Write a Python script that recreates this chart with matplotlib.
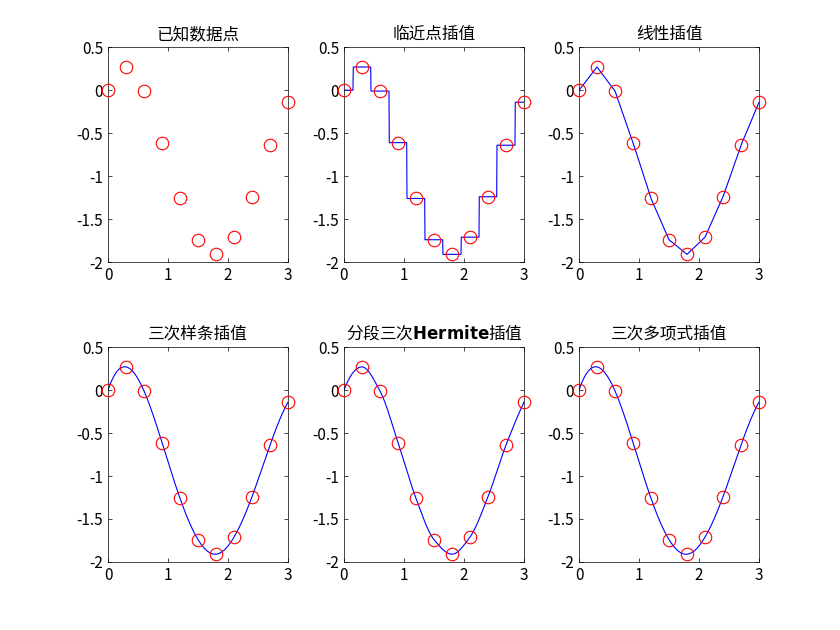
import numpy as np
import matplotlib
matplotlib.use("Agg")
import matplotlib.pyplot as plt

plt.rcParams['font.family'] = ['Noto Sans CJK SC', 'DejaVu Sans']

x = np.array([0, 0.3, 0.6, 0.9, 1.2, 1.5, 1.8, 2.1, 2.4, 2.7, 3.0])
y = np.array([0, 0.27, -0.01, -0.61, -1.26, -1.74, -1.91, -1.71, -1.24, -0.64, -0.14])
titles = ['已知数据点', '临近点插值', '线性插值', '三次样条插值', '分段三次Hermite插值', '三次多项式插值']
yticks = [-2, -1.5, -1, -0.5, 0, 0.5]
yticklabels = ['-2', '-1.5', '-1', '-0.5', '0', '0.5']

xi = np.linspace(0, 3, 601)

def nearest(xi):
    idx = np.abs(xi[:, None] - x[None, :]).argmin(axis=1)
    return y[idx]

def spline(xi):
    n = len(x); h = np.diff(x)
    A = np.zeros((n, n)); b = np.zeros(n)
    for i in range(1, n-1):
        A[i, i-1] = h[i-1]; A[i, i] = 2*(h[i-1]+h[i]); A[i, i+1] = h[i]
        b[i] = 6*((y[i+1]-y[i])/h[i] - (y[i]-y[i-1])/h[i-1])
    A[0, 0] = h[1]; A[0, 1] = -(h[0]+h[1]); A[0, 2] = h[0]
    A[-1, -3] = h[-1]; A[-1, -2] = -(h[-2]+h[-1]); A[-1, -1] = h[-2]
    M = np.linalg.solve(A, b)
    k = np.clip(np.searchsorted(x, xi) - 1, 0, n-2)
    t0 = x[k+1]-xi; t1 = xi-x[k]; hk = h[k]
    return (M[k]*t0**3 + M[k+1]*t1**3)/(6*hk) + (y[k]/hk - M[k]*hk/6)*t0 + (y[k+1]/hk - M[k+1]*hk/6)*t1

def pchip(xi):
    n = len(x); h = np.diff(x); d = np.diff(y)/h
    m = np.zeros(n)
    for i in range(1, n-1):
        if d[i-1]*d[i] > 0:
            w1 = 2*h[i]+h[i-1]; w2 = h[i]+2*h[i-1]
            m[i] = (w1+w2)/(w1/d[i-1]+w2/d[i])
    m[0] = ((2*h[0]+h[1])*d[0]-h[0]*d[1])/(h[0]+h[1])
    if np.sign(m[0]) != np.sign(d[0]): m[0] = 0
    m[-1] = ((2*h[-1]+h[-2])*d[-1]-h[-1]*d[-2])/(h[-1]+h[-2])
    if np.sign(m[-1]) != np.sign(d[-1]): m[-1] = 0
    k = np.clip(np.searchsorted(x, xi) - 1, 0, n-2)
    t = (xi-x[k])/h[k]; hk = h[k]
    h00 = 2*t**3-3*t**2+1; h10 = t**3-2*t**2+t; h01 = -2*t**3+3*t**2; h11 = t**3-t**2
    return h00*y[k] + h10*hk*m[k] + h01*y[k+1] + h11*hk*m[k+1]

curves = [None, nearest(xi), np.interp(xi, x, y), spline(xi), pchip(xi), spline(xi)]

fig = plt.figure(figsize=(8.4, 6.3), dpi=100)
lefts = [0.1286, 0.4095, 0.6893]
bottoms = [0.584, 0.108]
for i in range(6):
    ax = fig.add_axes([lefts[i % 3], bottoms[i // 3], 0.2143, 0.341])
    if curves[i] is not None:
        ax.plot(xi, curves[i], color='blue', lw=0.8)
    ax.plot(x, y, 'o', mfc='none', mec='red', ms=9, mew=0.8, clip_on=False, zorder=5)
    ax.set_xlim(0, 3); ax.set_ylim(-2, 0.5)
    ax.set_xticks([0, 1, 2, 3]); ax.set_yticks(yticks); ax.set_yticklabels(yticklabels)
    ax.tick_params(direction='in', labelsize=11, length=3, top=True, right=True, width=0.5)
    for s in ax.spines.values(): s.set_linewidth(0.5)
    if i == 4:
        ax.set_title('分段三次$\\mathbf{Hermite}$插值', fontsize=12)
    else:
        ax.set_title(titles[i], fontsize=12)
fig.savefig('out.png', dpi=100)
